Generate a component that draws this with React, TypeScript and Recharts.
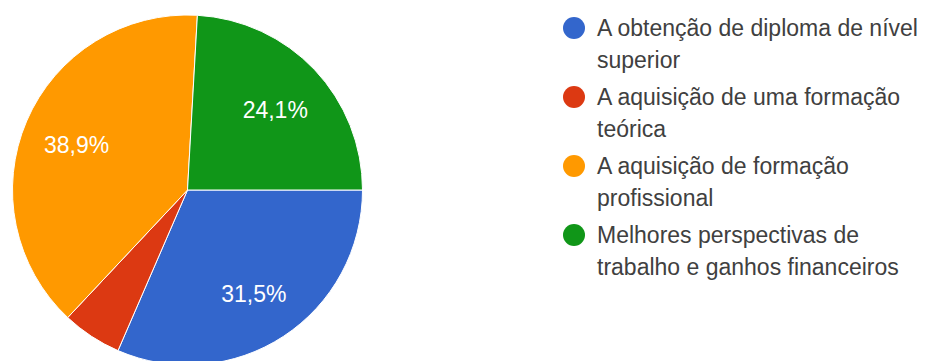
import React from "react";
import { PieChart, Pie, Cell, Legend } from "recharts";

const categories = [
  "A obtenção de diploma de nível superior",
  "A aquisição de uma formação teórica",
  "A aquisição de formação profissional",
  "Melhores perspectivas de trabalho e ganhos financeiros",
];
const legendLines = [
  ["A obtenção de diploma de nível", "superior"],
  ["A aquisição de uma formação", "teórica"],
  ["A aquisição de formação", "profissional"],
  ["Melhores perspectivas de", "trabalho e ganhos financeiros"],
];
const values = [31.5, 5.5, 38.9, 24.1];
const colors = ["#3366cc", "#dc3912", "#ff9900", "#109618"];

const data = categories.map((name, i) => ({ name, value: values[i] }));

const RAD = Math.PI / 180;
const FONT = "'Liberation Sans', Arial, sans-serif";

const renderLabel = (props: any) => {
  const { cx, cy, midAngle, outerRadius, value } = props;
  if (value < 10) return null;
  const r = outerRadius * 0.69;
  const x = cx + r * Math.cos(-midAngle * RAD);
  const y = cy + r * Math.sin(-midAngle * RAD) + 3;
  return (
    <text
      x={x}
      y={y}
      fill="#ffffff"
      textAnchor="middle"
      dominantBaseline="central"
      style={{ fontFamily: FONT, fontSize: 23 }}
    >
      {value.toFixed(1).replace(".", ",") + "%"}
    </text>
  );
};

const renderLegend = () => (
  <div style={{ fontFamily: FONT, fontSize: 23, color: "#404040" }}>
    {legendLines.map((lines, i) => (
      <div key={i} style={{ position: "relative", paddingLeft: 37, marginBottom: 5 }}>
        <span
          style={{
            position: "absolute",
            left: 3,
            top: 5,
            width: 22,
            height: 22,
            borderRadius: 11,
            background: colors[i],
          }}
        />
        {lines.map((l, j) => (
          <div key={j} style={{ lineHeight: "32px", whiteSpace: "nowrap" }}>
            {l}
          </div>
        ))}
      </div>
    ))}
  </div>
);

export default function App() {
  return (
    <div style={{ position: "absolute", left: 0, top: 0, background: "#fff" }}>
      <PieChart width={930} height={361} margin={{ top: 0, right: 0, bottom: 0, left: 0 }}>
        <Pie
          data={data}
          dataKey="value"
          nameKey="name"
          cx={187.5}
          cy={190}
          outerRadius={175}
          startAngle={0}
          endAngle={-360}
          stroke="#ffffff"
          strokeWidth={1}
          label={renderLabel}
          labelLine={false}
          isAnimationActive={false}
        >
          {data.map((d, i) => (
            <Cell key={d.name} fill={colors[i]} />
          ))}
        </Pie>
        <Legend
          content={renderLegend}
          layout="vertical"
          wrapperStyle={{ position: "absolute", left: 560, top: 12, width: 370 }}
        />
      </PieChart>
    </div>
  );
}
